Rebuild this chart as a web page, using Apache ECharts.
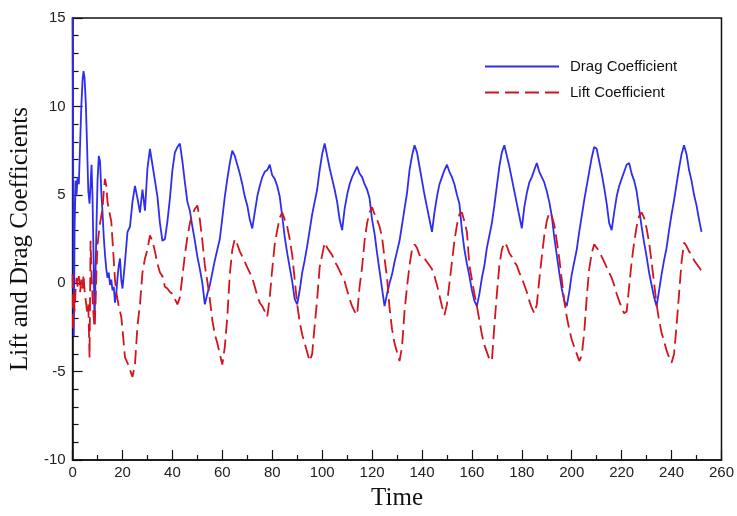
<!DOCTYPE html>
<html>
<head>
<meta charset="utf-8">
<script src="https://cdn.jsdelivr.net/npm/echarts@6/dist/echarts.min.js"></script>
<style>html,body{margin:0;padding:0;background:#fff;}#c{width:737px;height:516px;}</style>
</head>
<body>
<div id="c"></div>
<script>
// Shared time samples
var time = [
0,0.2,0.5,0.8,1.2,1.6,2,2.5,3,3.5,4,4.4,4.8,5.3,5.8,6.3,6.8,7.2,7.6,8,8.4,8.8,9.2,9.6,10,10.5,11,11.5,12,12.5,13,13.5,14,14.5,15,15.5,16,16.5,17,17.5,18,18.5,19,19.5,20,
21,22,23,24,25,26,27,28,29,30,
31,32,33,34,35,36,37,38,39,40,
41,42,43,44,45,46,47,48,49,50,
51,52,53,54,55,56,57,58,59,60,
61,62,63,64,65,66,67,68,69,70,
71,72,73,74,75,76,77,78,79,80,
81,82,83,84,85,86,87,88,89,90,
91,92,93,94,95,96,97,98,99,100,
101,102,103,104,105,106,107,108,109,110,
111,112,113,114,115,116,117,118,119,120,
121,122,123,124,125,126,127,128,129,130,
131,132,133,134,135,136,137,138,139,140,
141,142,143,144,145,146,147,148,149,150,
151,152,153,154,155,156,157,158,159,160,
161,162,163,164,165,166,167,168,169,170,
171,172,173,174,175,176,177,178,179,180,
181,182,183,184,185,186,187,188,189,190,
191,192,193,194,195,196,197,198,199,200,
201,202,203,204,205,206,207,208,209,210,
211,212,213,214,215,216,217,218,219,220,
221,222,223,224,225,226,227,228,229,230,
231,232,233,234,235,236,237,238,239,240,
241,242,243,244,245,246,247,248,249,250,
251,252
];

var dragCoef = [
16,8,-3,3,5.8,5.0,6.0,5.6,7.8,10.0,11.5,12.0,11.6,10.2,7.8,5.2,4.5,5.6,6.7,4.8,1.5,-2.3,0.6,3.4,5.8,7.2,6.9,5.2,4.0,2.6,1.6,0.8,0.3,0.6,-0.1,0.2,-0.4,-0.2,-1.1,-0.6,0.3,1.0,1.4,0.2,-0.3,
1.2,2.9,3.2,4.6,5.5,4.8,4.0,5.3,4.1,6.5,
7.6,6.7,5.8,4.9,3.4,2.4,2.5,3.5,4.8,6.4,
7.4,7.7,7.9,6.9,5.7,4.6,4.1,3.2,2.4,1.5,
0.8,0.0,-1.2,-0.6,-0.1,0.6,1.3,1.9,2.5,3.7,
4.9,5.9,6.8,7.5,7.2,6.7,6.2,5.6,4.9,4.4,
3.6,3.1,4.0,4.9,5.5,6.0,6.3,6.4,6.7,6.1,
5.9,5.5,4.9,3.8,2.6,1.7,0.9,0.1,-0.9,-1.2,
-0.4,0.6,1.3,2.1,3.0,3.9,4.6,5.3,6.4,7.3,
7.9,7.2,6.5,5.9,5.3,4.6,3.6,3.0,4.2,5.0,
5.6,6.0,6.3,6.6,6.2,6.0,5.6,5.3,4.8,3.6,
2.8,1.7,0.7,-0.3,-1.3,-0.6,0.0,0.5,1.2,1.8,
2.4,3.3,4.2,5.1,6.4,7.2,7.8,7.4,6.6,5.8,
5.0,4.3,3.6,2.9,4.0,4.9,5.6,6.0,6.4,6.7,
6.3,6.0,5.6,5.0,4.5,3.0,1.9,1.1,0.4,-0.4,
-1.0,-1.3,-0.6,0.3,1.0,2.0,2.7,3.4,4.4,5.5,
6.6,7.4,7.8,7.2,6.6,5.9,5.2,4.5,3.8,3.1,
4.3,5.1,5.7,6.0,6.4,6.8,6.3,6.0,5.7,5.2,
4.6,3.8,2.6,1.6,0.6,-0.3,-1.0,-1.3,-0.5,0.5,
1.2,1.9,2.9,3.8,4.7,5.5,6.3,7.1,7.7,7.6,
6.9,6.2,5.4,4.5,3.4,3.0,4.0,4.9,5.5,5.9,
6.3,6.7,6.8,6.2,5.8,5.2,4.2,3.2,2.3,1.5,
0.6,-0.1,-0.8,-1.3,-0.4,0.5,1.3,2.0,3.0,3.9,
4.7,5.6,6.5,7.3,7.8,7.3,6.4,5.8,5.0,4.4,
3.6,2.9
];

var liftCoef = [
0.5,-2.7,-0.6,-1.6,-0.4,0.3,-0.2,0.4,-0.5,0.2,-0.3,0.5,-0.4,-1.0,-1.6,-1.2,-4.2,2.4,0.5,-0.8,-1.8,-2.5,-1.2,0.8,2.2,2.8,3.4,3.8,4.2,5.2,5.9,5.5,4.6,4.2,4.1,3.5,2.4,1.3,0.2,-0.5,-0.9,-1.3,-1.6,-1.9,-2.6,
-4.2,-4.5,-4.9,-5.3,-4.6,-2.4,-1.2,0.6,1.4,1.9,
2.7,2.4,1.8,1.1,0.6,0.4,-0.2,-0.3,-0.5,-0.6,
-0.9,-1.2,-0.8,0.4,1.6,2.6,3.4,3.9,4.2,4.4,
3.6,2.4,1.0,0.1,-0.9,-2.1,-2.9,-3.4,-4.0,-4.6,
-3.6,-1.9,0.5,1.9,2.5,2.2,1.8,1.5,1.2,0.9,
0.6,0.3,-0.2,-0.7,-1.1,-1.3,-1.6,-1.9,-0.8,0.8,
2.2,3.0,3.7,4.0,3.6,3.2,2.5,1.6,0.2,-1.2,
-2.2,-2.9,-3.4,-3.9,-4.4,-4.0,-2.4,-0.9,0.9,1.6,
2.3,2.0,1.8,1.6,1.2,1.0,0.7,0.4,0.1,-0.4,
-0.9,-1.3,-1.6,-1.8,-0.2,0.9,2.4,3.4,4.0,4.3,
3.9,3.6,3.2,2.6,1.4,0.3,-1.4,-2.6,-3.4,-3.9,
-4.4,-3.6,-1.6,-0.2,1.0,1.9,2.2,2.0,1.6,1.4,
1.4,1.2,1.0,0.8,0.4,-0.1,-0.7,-1.3,-1.8,-1.2,
0.0,1.2,2.4,3.3,3.9,4.0,3.5,2.9,1.0,0.2,
-0.6,-1.3,-2.1,-2.9,-3.5,-3.9,-4.3,-4.4,-2.4,-0.6,
1.0,1.9,2.3,2.1,1.7,1.5,1.2,1.0,0.6,0.3,
-0.1,-0.5,-1.0,-1.4,-1.7,-1.2,0.2,1.5,2.7,3.5,
4.0,3.8,3.3,2.4,1.4,0.2,-1.0,-1.9,-2.6,-3.2,
-3.6,-4.0,-4.4,-4.1,-2.8,-0.8,0.8,1.7,2.2,2.0,
1.8,1.5,1.2,0.9,0.6,0.3,-0.1,-0.6,-1.0,-1.4,
-1.7,-1.6,-0.2,1.2,2.3,3.2,3.8,4.0,3.7,3.1,
2.3,1.2,0.0,-1.2,-2.1,-2.8,-3.3,-3.8,-4.2,-4.5,
-4.0,-2.4,-0.6,1.2,2.3,2.1,1.8,1.6,1.3,1.1,
0.9,0.7
];

var seriesNames = ['Drag Coefficient', 'Lift Coefficient'];
var xTitle = 'Time';
var yTitle = 'Lift and Drag Coefficients';

function pairs(vals) {
  var out = [];
  for (var i = 0; i < time.length; i++) out.push([time[i], vals[i]]);
  return out;
}

var chart = echarts.init(document.getElementById('c'), null, {renderer: 'canvas'});
var axisCol = '#111';
chart.setOption({
  animation: false,
  backgroundColor: '#fff',
  grid: {left: 69, top: 18, width: 653, height: 450, show: true, borderColor: axisCol, borderWidth: 1.5, backgroundColor: 'transparent'},
  legend: {
    orient: 'vertical', left: 479, top: 54, itemWidth: 74, itemHeight: 14, itemGap: 11,
    itemStyle: {opacity: 0},
    textStyle: {fontFamily: 'Liberation Sans', fontSize: 15, color: '#111', padding: [0, 0, 0, 6]},
    data: seriesNames
  },
  xAxis: {
    type: 'value', min: 0, max: 260, interval: 20,
    name: xTitle, nameLocation: 'middle', nameGap: 26,
    nameTextStyle: {fontFamily: 'Liberation Serif', fontSize: 25, color: '#111'},
    axisLine: {onZero: false, lineStyle: {color: axisCol, width: 1.5}},
    axisTick: {inside: true, length: 10, lineStyle: {color: axisCol, width: 1.2}},
    minorTick: {show: true, splitNumber: 2, length: 5, lineStyle: {color: axisCol, width: 1.2}},
    splitLine: {show: false},
    axisLabel: {fontFamily: 'Liberation Sans', fontSize: 15, color: '#222', margin: 5}
  },
  yAxis: {
    type: 'value', min: -10, max: 15, interval: 5,
    name: yTitle, nameLocation: 'middle', nameGap: 28, nameRotate: 90,
    nameTextStyle: {fontFamily: 'Liberation Serif', fontSize: 25, color: '#111'},
    axisLine: {show: true, onZero: false, lineStyle: {color: axisCol, width: 1.5}},
    axisTick: {show: true, inside: true, length: 10, lineStyle: {color: axisCol, width: 1.2}},
    minorTick: {show: true, splitNumber: 5, length: 6, lineStyle: {color: axisCol, width: 1.2}},
    splitLine: {show: false},
    axisLabel: {fontFamily: 'Liberation Sans', fontSize: 15, color: '#222', margin: 7}
  },
  series: [
    {name: seriesNames[0], type: 'line', data: pairs(dragCoef), symbol: 'none', clip: true,
     lineStyle: {color: '#2e2ef2', width: 1.8}, itemStyle: {color: '#2e2ef2'}},
    {name: seriesNames[1], type: 'line', data: pairs(liftCoef), symbol: 'none', clip: true,
     lineStyle: {color: '#d3141c', width: 1.8, type: [14, 6]}, itemStyle: {color: '#d3141c'}}
  ]
});
</script>
</body>
</html>
